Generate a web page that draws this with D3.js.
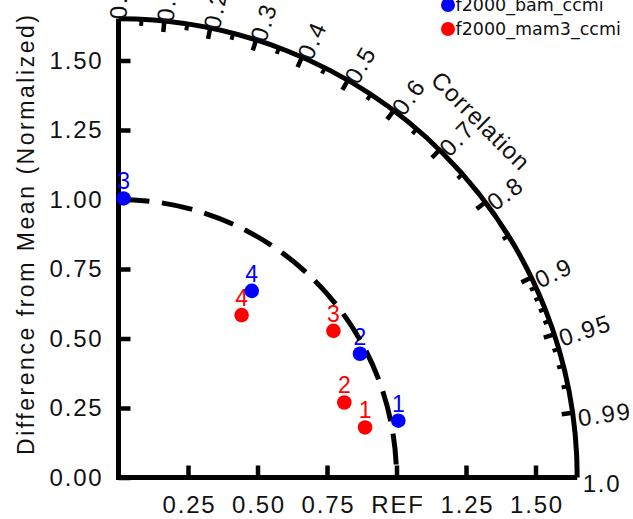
<!DOCTYPE html>
<html>
<head>
<meta charset="utf-8">
<script src="https://cdn.jsdelivr.net/npm/d3@7"></script>
<style>
  html, body { margin: 0; padding: 0; background: #fff; }
  svg { display: block; }
</style>
</head>
<body>
<svg id="chart" width="633" height="519"></svg>
<script>
// Taylor diagram: normalized standard deviation (radius) vs. correlation (angle)
const caseNames  = ["f2000_bam_ccmi", "f2000_mam3_ccmi"];
const caseColors = ["#0000ff", "#ff0000"];
const varLabels  = ["1", "2", "3", "4"];

const bamRatio  = [1.027, 0.976, 1.004, 0.825];
const bamCorr   = [0.980, 0.890, 0.018, 0.581];
const mam3Ratio = [0.905, 0.856, 0.936, 0.733];
const mam3Corr  = [0.980, 0.949, 0.826, 0.604];

const stdTicks    = [0, 0.25, 0.5, 0.75, 1.0, 1.25, 1.5];
const yTickLabels = ["0.00", "0.25", "0.50", "0.75", "1.00", "1.25", "1.50"];
const xTickValues = [0.25, 0.5, 0.75, 1.0, 1.25, 1.5];
const xTickLabels = ["0.25", "0.50", "0.75", "REF", "1.25", "1.50"];

const corLabelValues = [0.0, 0.1, 0.2, 0.3, 0.4, 0.5, 0.6, 0.7, 0.8, 0.9, 0.95, 0.99, 1.0];
const corLabels      = ["0.0", "0.1", "0.2", "0.3", "0.4", "0.5", "0.6", "0.7", "0.8", "0.9", "0.95", "0.99", "1.0"];
const corMajor = [0.1, 0.2, 0.3, 0.4, 0.5, 0.6, 0.7, 0.8, 0.9, 0.95, 0.99];
const corMinor = [0.05, 0.15, 0.25, 0.35, 0.45, 0.55, 0.65, 0.75, 0.85,
                  0.91, 0.92, 0.93, 0.94, 0.96, 0.97, 0.98];
const stdMax = 1.65;
const refStd = 1.0;

const series = [
  { name: caseNames[0], color: caseColors[0], ratio: bamRatio,  corr: bamCorr },
  { name: caseNames[1], color: caseColors[1], ratio: mam3Ratio, corr: mam3Corr }
];

// geometry
const ox = 118.5, oy = 477.5, R = 458.7;
const rScale = d3.scaleLinear().domain([0, stdMax]).range([0, R]);
const xScale = d3.scaleLinear().domain([0, stdMax]).range([ox, ox + R]);
const yScale = d3.scaleLinear().domain([0, stdMax]).range([oy, oy - R]);

const numFont = "'Liberation Sans', Arial, Helvetica, sans-serif";
const svg = d3.select("#chart");

// y-axis title
svg.append("text")
  .attr("transform", "translate(33.5,235) rotate(-90)")
  .attr("text-anchor", "middle")
  .attr("font-family", numFont)
  .attr("font-size", 23)
  .attr("textLength", 440)
  .attr("lengthAdjust", "spacing")
  .attr("fill", "#111")
  .text("Difference from Mean (Normalized)");

// left axis (ticks point inward)
const yAxis = d3.axisLeft(yScale)
  .tickValues(stdTicks)
  .tickFormat((d, i) => yTickLabels[i])
  .tickSize(-12)
  .tickPadding(15);
const gy = svg.append("g").attr("transform", `translate(${ox},0)`).call(yAxis);

// bottom axis
const xAxis = d3.axisBottom(xScale)
  .tickValues(xTickValues)
  .tickFormat((d, i) => xTickLabels[i])
  .tickSize(-12)
  .tickPadding(18.5);
const gx = svg.append("g").attr("transform", `translate(0,${oy})`).call(xAxis);

[gx, gy].forEach(g => {
  g.select(".domain").remove();
  g.selectAll(".tick line").attr("stroke", "#000").attr("stroke-width", 4.5);
  g.selectAll(".tick text")
    .attr("fill", "#111")
    .attr("font-family", numFont)
    .attr("font-size", 24)
    .attr("letter-spacing", 1.8);
});
gx.selectAll(".tick text").attr("dx", 1);

// axis lines
svg.append("path")
  .attr("d", `M${xScale(0)},${yScale(stdMax)}L${xScale(0)},${yScale(0)}L${xScale(stdMax)},${yScale(0)}`)
  .attr("fill", "none")
  .attr("stroke", "#000")
  .attr("stroke-width", 5)
  .attr("stroke-linejoin", "miter");

// outer correlation arc
const outer = d3.path();
outer.arc(ox, oy, rScale(stdMax), -Math.PI / 2, 0);
svg.append("path")
  .attr("d", outer.toString())
  .attr("fill", "none")
  .attr("stroke", "#000")
  .attr("stroke-width", 5);

// correlation tick marks on the arc (inward)
function radialTick(c, len, w) {
  const a = Math.acos(c);
  const r0 = rScale(stdMax), r1 = r0 - len;
  svg.append("line")
    .attr("x1", ox + r0 * Math.cos(a)).attr("y1", oy - r0 * Math.sin(a))
    .attr("x2", ox + r1 * Math.cos(a)).attr("y2", oy - r1 * Math.sin(a))
    .attr("stroke", "#000").attr("stroke-width", w);
}
corMajor.forEach(c => radialTick(c, 11, 4.5));
corMinor.forEach(c => radialTick(c, 6.5, 4));

// correlation labels
corLabelValues.forEach((c, i) => {
  const a = Math.acos(c);
  const rr = rScale(stdMax) + 5.5;
  const x = ox + rr * Math.cos(a);
  const y = oy - rr * Math.sin(a) + 6;
  svg.append("text")
    .attr("transform", `translate(${x},${y}) rotate(${-a * 180 / Math.PI})`)
    .attr("text-anchor", "start")
    .attr("dominant-baseline", "central")
    .attr("font-family", numFont)
    .attr("font-size", 24)
    .attr("letter-spacing", 1.8)
    .attr("fill", "#111")
    .text(corLabels[i]);
});

svg.append("text")
  .attr("transform", `translate(481,121) rotate(45)`)
  .attr("text-anchor", "middle")
  .attr("dominant-baseline", "central")
  .attr("font-family", numFont)
  .attr("font-size", 24)
  .attr("letter-spacing", 1)
  .attr("fill", "#111")
  .text("Correlation");

// point coordinates
function px(s, i) { return xScale(s.ratio[i] * s.corr[i]); }
function py(s, i) { return yScale(s.ratio[i] * Math.sqrt(1 - s.corr[i] * s.corr[i])); }

// variable number labels
series.forEach(s => {
  svg.append("g").selectAll("text")
    .data(varLabels)
    .join("text")
    .attr("x", (d, i) => px(s, i))
    .attr("y", (d, i) => py(s, i) - 9)
    .attr("text-anchor", "middle")
    .attr("font-family", numFont)
    .attr("font-size", 23)
    .attr("fill", s.color)
    .text(d => d);
});

// reference standard deviation arc (dashed)
const refArc = d3.path();
refArc.arc(ox, oy, rScale(refStd), -Math.PI / 2, 0);
svg.append("path")
  .attr("d", refArc.toString())
  .attr("fill", "none")
  .attr("stroke", "#000")
  .attr("stroke-width", 5)
  .attr("stroke-dasharray", "31 12.6");

// markers
series.forEach(s => {
  svg.append("g").selectAll("circle")
    .data(varLabels)
    .join("circle")
    .attr("cx", (d, i) => px(s, i))
    .attr("cy", (d, i) => py(s, i))
    .attr("r", 7.3)
    .attr("fill", s.color);
});

// legend
const legend = svg.append("g");
series.forEach((s, k) => {
  const ly = 5 + k * 24;
  legend.append("circle").attr("cx", 448).attr("cy", ly).attr("r", 7).attr("fill", s.color);
  legend.append("text")
    .attr("x", 455.5).attr("y", ly)
    .attr("dominant-baseline", "central")
    .attr("font-family", "'DejaVu Sans', sans-serif")
    .attr("font-size", 17.5)
    .attr("fill", "#111")
    .text(s.name);
});
</script>
</body>
</html>
